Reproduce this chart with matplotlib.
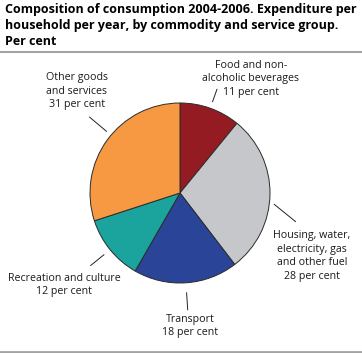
import numpy as np
import matplotlib
matplotlib.use("Agg")
import matplotlib.pyplot as plt
from matplotlib.lines import Line2D

plt.rcParams['font.family'] = ['Open Sans', 'DejaVu Sans']

groups = ["Food and non-\nalcoholic beverages",
          "Housing, water,\nelectricity, gas\nand other fuel",
          "Transport",
          "Recreation and culture",
          "Other goods\nand services"]
shares = [10.9, 28.7, 18.7, 11.7, 30.0]
label_pct = [11, 28, 18, 12, 31]
colors = ["#951b22", "#c6c7ca", "#2a4498", "#1ba39e", "#f79843"]

title = ("Composition of consumption 2004-2006. Expenditure per\n"
         "household per year, by commodity and service group.\n"
         "Per cent")

W, H = 362, 353
fig = plt.figure(figsize=(W / 100, H / 100), dpi=100)
ax = fig.add_axes([0, 0, 1, 1])

cx, cy, R = 180, H - 193, 90

wedges, _ = ax.pie(shares, colors=colors, startangle=90, counterclock=False,
                   center=(cx, cy), radius=R, frame=True,
                   wedgeprops=dict(edgecolor="#2b2b2b", linewidth=0.7))
ax.set_xlim(0, W)
ax.set_ylim(0, H)
ax.set_aspect("equal")
ax.axis("off")

# label layout: text centre (px from top-left), leader (angle offset/radius at start and end)
text_pos = [(251, 79), (312, 256), (190, 326), (64, 285), (77, 91)]
leaders = [(0, 97, 0, 110), (-6, 95, -13, 119), (0, 100, 0, 117),
           (0, 98, 0, 115), (-4, 96, -4, 118)]

for w, name, pct, (tx, ty), (d1, r1, d2, r2) in zip(wedges, groups, label_pct, text_pos, leaders):
    mid = (w.theta1 + w.theta2) / 2
    a1 = np.radians(mid + d1)
    a2 = np.radians(mid + d2)
    ax.add_line(Line2D([cx + r1 * np.cos(a1), cx + r2 * np.cos(a2)],
                       [cy + r1 * np.sin(a1), cy + r2 * np.sin(a2)],
                       color="#222222", linewidth=0.7))
    ax.text(tx, H - ty, f"{name}\n{pct} per cent", ha="center", va="center",
            fontsize=7.7, color="#1a1a1a", linespacing=1.33)

fig.text(5 / W, 1 - 3 / H, title, ha="left", va="top", fontsize=9,
         fontweight="bold", color="#000000", linespacing=1.32)

fig.add_artist(Line2D([0, 1], [1 - 52 / H, 1 - 52 / H], transform=fig.transFigure,
                      color="#a3a3a3", linewidth=1.5))
fig.add_artist(Line2D([0, 1], [1 - 351.5 / H, 1 - 351.5 / H], transform=fig.transFigure,
                      color="#a3a3a3", linewidth=2))

fig.savefig("out.png", dpi=100)
